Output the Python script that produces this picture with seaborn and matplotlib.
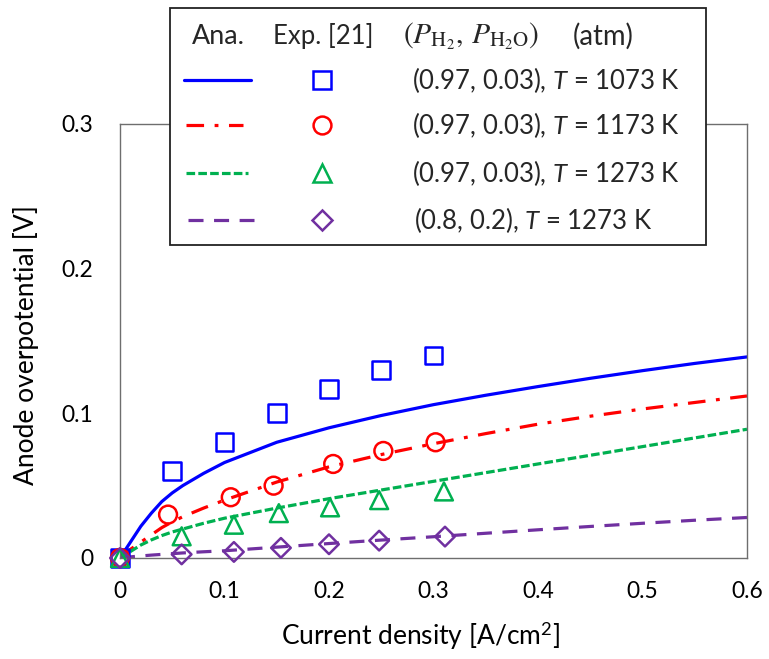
import numpy as np
import pandas as pd
import seaborn as sns
import matplotlib
matplotlib.use("Agg")
import matplotlib.pyplot as plt
from matplotlib.patches import Rectangle
from matplotlib.lines import Line2D

sns.set_theme(style="white")
plt.rcParams['font.family'] = ['Lato', 'DejaVu Sans']
plt.rcParams['mathtext.fontset'] = 'custom'
plt.rcParams['mathtext.rm'] = 'Lato'
plt.rcParams['mathtext.it'] = 'Lato:italic'

# ---------------- data ----------------
curve_x = [0, 0.01, 0.02, 0.03, 0.04, 0.05, 0.06, 0.08, 0.1, 0.15, 0.2, 0.25,
           0.3, 0.35, 0.4, 0.45, 0.5, 0.55, 0.6]
ana_1073 = [0, 0.011, 0.022, 0.031, 0.039, 0.045, 0.050, 0.0585, 0.066, 0.080,
            0.090, 0.0985, 0.106, 0.1125, 0.1185, 0.1242, 0.1295, 0.1345, 0.139]
ana_1173 = [0, 0.006, 0.011, 0.016, 0.021, 0.025, 0.0285, 0.0345, 0.040, 0.0525,
            0.063, 0.0715, 0.079, 0.086, 0.0925, 0.098, 0.103, 0.1075, 0.112]
ana_1273 = [0, 0.0045, 0.009, 0.0125, 0.0155, 0.018, 0.020, 0.024, 0.0275, 0.0345,
            0.041, 0.047, 0.053, 0.059, 0.065, 0.071, 0.077, 0.083, 0.089]
ana_1273b = [0, 0.0008, 0.0014, 0.002, 0.0025, 0.003, 0.0035, 0.0043, 0.005, 0.0075,
             0.010, 0.0124, 0.0147, 0.0171, 0.0195, 0.0218, 0.0240, 0.0261, 0.028]

exp_x_1073 = [0, 0.05, 0.1, 0.15, 0.2, 0.25, 0.3]
exp_y_1073 = [0, 0.060, 0.080, 0.100, 0.117, 0.130, 0.140]
exp_x_1173 = [0, 0.046, 0.106, 0.147, 0.204, 0.252, 0.302]
exp_y_1173 = [0, 0.030, 0.042, 0.050, 0.065, 0.074, 0.080]
exp_x_1273 = [0, 0.059, 0.109, 0.152, 0.201, 0.248, 0.310]
exp_y_1273 = [0, 0.015, 0.023, 0.031, 0.035, 0.040, 0.046]
exp_x_1273b = [0, 0.059, 0.109, 0.154, 0.200, 0.248, 0.311]
exp_y_1273b = [0, 0.0025, 0.0042, 0.0070, 0.0095, 0.012, 0.0148]

labels = ["(0.97, 0.03), $T$ = 1073 K", "(0.97, 0.03), $T$ = 1173 K",
          "(0.97, 0.03), $T$ = 1273 K", "(0.8, 0.2), $T$ = 1273 K"]
x_ticks = [0, 0.1, 0.2, 0.3, 0.4, 0.5, 0.6]
x_ticklabels = ["0", "0.1", "0.2", "0.3", "0.4", "0.5", "0.6"]
y_ticks = [0, 0.1, 0.2, 0.3]
y_ticklabels = ["0", "0.1", "0.2", "0.3"]

colors = ["#0000FF", "#FF0000", "#00B050", "#7030A0"]
markers = ["s", "o", "^", "D"]
msizes = [165, 165, 165, 100]
lstyles = ["-", (0, (5.5, 3.3, 1.2, 3.3)), (0, (2.7, 1.0)), (0, (4.7, 3.3))]

curves = [ana_1073, ana_1173, ana_1273, ana_1273b]
exps = [(exp_x_1073, exp_y_1073), (exp_x_1173, exp_y_1173),
        (exp_x_1273, exp_y_1273), (exp_x_1273b, exp_y_1273b)]

# ---------------- figure ----------------
fig = plt.figure(figsize=(7.69, 6.59), dpi=100)
ax = fig.add_axes([120/769, 1-558/659, 627/769, 434/659])

for yv, c, ls in zip(curves, colors, lstyles):
    sns.lineplot(x=curve_x, y=yv, ax=ax, color=c, lw=2.3, linestyle=ls,
                 estimator=None, sort=False)

for (ex, ey), c, m, s in zip(exps, colors, markers, msizes):
    sns.scatterplot(x=ex, y=ey, ax=ax, marker=m, s=s, facecolors='none',
                    edgecolors=c, linewidths=1.8, color=c, clip_on=False,
                    zorder=5)

ax.set_xlim(0, 0.6)
ax.set_ylim(0, 0.3)
ax.set_xticks(x_ticks)
ax.set_xticklabels(x_ticklabels)
ax.set_yticks(y_ticks)
ax.set_yticklabels(y_ticklabels)
ax.tick_params(axis='both', direction='in', length=6, width=1, color='#555555',
               labelsize=16.5, labelcolor='black')
ax.tick_params(axis='x', pad=16.5)
ax.tick_params(axis='y', pad=19)
for sp in ax.spines.values():
    sp.set_color('#6e6e6e')
    sp.set_linewidth(1.0)

ax.set_xlabel("Current density [A/cm$^2$]", fontsize=18, color='black')
ax.set_ylabel("Anode overpotential [V]", fontsize=18, color='black')
ax.xaxis.label.set_va('center')
ax.yaxis.label.set_va('center')

# ---------------- legend box ----------------
def fx(px):
    return px / 769

def fy(py):
    return 1 - py / 659

rect = Rectangle((fx(170), fy(245)), fx(706) - fx(170), fy(8) - fy(245),
                 transform=fig.transFigure, facecolor='white', edgecolor='#222222',
                 linewidth=1.3, zorder=10)
fig.add_artist(rect)

hdr_y = fy(36)
t_ana = fig.text(fx(218), hdr_y, "Ana.", ha='center', va='center', fontsize=18.5, zorder=11)
t_exp = fig.text(fx(323), hdr_y, "Exp. [21]", ha='center', va='center', fontsize=18.5, zorder=11)
t_hdr = fig.text(fx(403), hdr_y, r"$(P_{\mathrm{H_2}},\,P_{\mathrm{H_2O}})$", ha='left',
                 va='center', fontsize=19.5, math_fontfamily='stix', zorder=11)
t_atm = fig.text(fx(573), hdr_y, "(atm)", ha='left', va='center', fontsize=18.5, zorder=11)

row_y = [80, 125, 173, 220]
line_x = [(184, 251), (186, 243), (186, 248), (188, 254)]
row_texts = []
for i in range(4):
    y = fy(row_y[i])
    fig.add_artist(Line2D([fx(line_x[i][0]), fx(line_x[i][1])], [y, y],
                          transform=fig.transFigure, color=colors[i], lw=2.3,
                          linestyle=lstyles[i], zorder=11))
    ms = np.sqrt(msizes[i])
    fig.add_artist(Line2D([fx(322)], [y], transform=fig.transFigure, marker=markers[i],
                          markersize=ms, markerfacecolor='none',
                          markeredgecolor=colors[i], markeredgewidth=1.8,
                          linestyle='none', zorder=11))
    row_texts.append(fig.text(fx(412 if i < 3 else 414), y, labels[i], ha='left',
                              va='center', fontsize=18, zorder=11))

# ---- size text to the widths measured on the reference ----
fig.canvas.draw()
r = fig.canvas.get_renderer()

def fit(t, target):
    w = t.get_window_extent(r).width
    t.set_fontsize(t.get_fontsize() * target / w)
    return t.get_fontsize()

fit(t_ana, 53)
fit(t_exp, 101)
fit(t_hdr, 137)
fit(t_atm, 61)
fs_rows = fit(row_texts[0], 268)
for t in row_texts[1:]:
    t.set_fontsize(fs_rows)

fit(ax.xaxis.label, 279)
ax.yaxis.label.set_fontsize(ax.xaxis.label.get_fontsize())
tl = ax.get_xticklabels()[1]
w = tl.get_window_extent(r).width
ax.tick_params(axis='both', labelsize=16.5 * 31.5 / w)

ax.xaxis.set_label_coords((420-120)/627, -(636-558)/434)
ax.yaxis.set_label_coords(-(120-26)/627, (558-345)/434)

fig.savefig("out.png", dpi=100)
